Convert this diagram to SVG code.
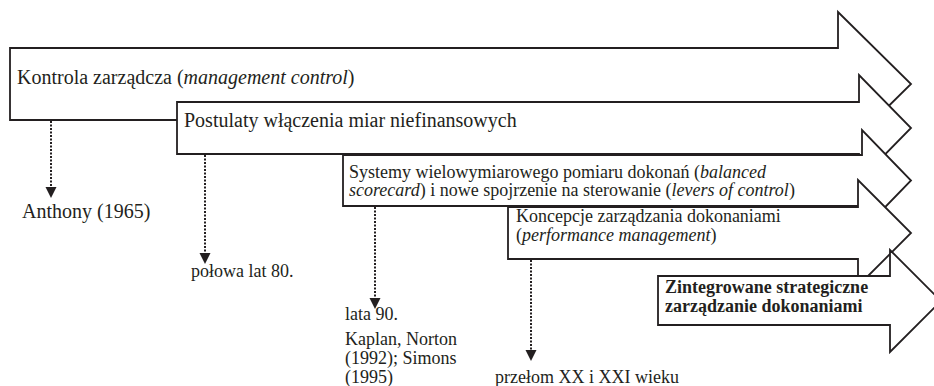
<svg xmlns="http://www.w3.org/2000/svg" width="934" height="386" viewBox="0 0 934 386">
  <style>
    .arrow { fill: #ffffff; stroke: #231f20; stroke-width: 1.8; stroke-linejoin: miter; }
    .t { font-family: "Liberation Serif", serif; fill: #231f20; }
    .big { font-size: 20px; }
    .mid { font-size: 18px; }
    .b { font-weight: bold; }
    .dot { stroke: #231f20; stroke-width: 2; stroke-dasharray: 2 1.5; fill: none; }
    .tip { fill: #231f20; }
  </style>

  <!-- stacked block arrows, each later one drawn over the previous -->
  <g id="node-kontrola">
    <path class="arrow" d="M10,48 H838 V12 L911,84 L838,156 V120 H10 Z"/>
    <text class="t big" x="17" y="84">Kontrola zarządcza (<tspan font-style="italic">management control</tspan>)</text>
  </g>

  <g id="node-postulaty">
    <path class="arrow" d="M177,102 H859 V75 L911,128 L859,181 V154 H177 Z"/>
    <text class="t big" x="184" y="127">Postulaty włączenia miar niefinansowych</text>
  </g>

  <g id="node-systemy">
    <path class="arrow" d="M343,155 H862 V130 L911,180.5 L862,231 V206 H343 Z"/>
    <text class="t mid" x="349" y="178">Systemy wielowymiarowego pomiaru dokonań (<tspan font-style="italic">balanced</tspan></text>
    <text class="t mid" x="349" y="196"><tspan font-style="italic">scorecard</tspan>) i nowe spojrzenie na sterowanie (<tspan font-style="italic">levers of control</tspan>)</text>
  </g>

  <g id="node-koncepcje">
    <path class="arrow" d="M508,207 H858 V180 L911,233 L858,286 V259 H508 Z"/>
    <text class="t mid" x="516" y="222">Koncepcje zarządzania dokonaniami</text>
    <text class="t mid" x="516" y="241">(<tspan font-style="italic">performance management</tspan>)</text>
  </g>

  <g id="node-zintegrowane">
    <path class="arrow" d="M658,276 H890 V250 L941,301 L890,352 V325 H658 Z"/>
    <text class="t mid b" x="665" y="293">Zintegrowane strategiczne</text>
    <text class="t mid b" x="665" y="312">zarządzanie dokonaniami</text>
  </g>

  <!-- dotted time markers -->
  <g id="connectors">
    <line class="dot" x1="51" y1="121" x2="51" y2="188"/>
    <path class="tip" d="M45.5,187 H56.5 L51,198 Z"/>
    <line class="dot" x1="205" y1="155" x2="205" y2="254"/>
    <path class="tip" d="M199.5,253 H210.5 L205,264 Z"/>
    <line class="dot" x1="375" y1="207" x2="375" y2="299"/>
    <path class="tip" d="M369.5,298 H380.5 L375,309 Z"/>
    <line class="dot" x1="531" y1="260" x2="531" y2="351"/>
    <path class="tip" d="M525.5,350 H536.5 L531,361 Z"/>
  </g>

  <!-- dates and authors -->
  <g id="labels">
    <text class="t big" x="22" y="218">Anthony (1965)</text>
    <text class="t mid" x="191" y="277">połowa lat 80.</text>
    <text class="t mid" x="345" y="320">lata 90.</text>
    <text class="t mid" x="345" y="345">Kaplan, Norton</text>
    <text class="t mid" x="345" y="364">(1992); Simons</text>
    <text class="t mid" x="345" y="383">(1995)</text>
    <text class="t mid" x="495" y="383">przełom XX i XXI wieku</text>
  </g>
</svg>
